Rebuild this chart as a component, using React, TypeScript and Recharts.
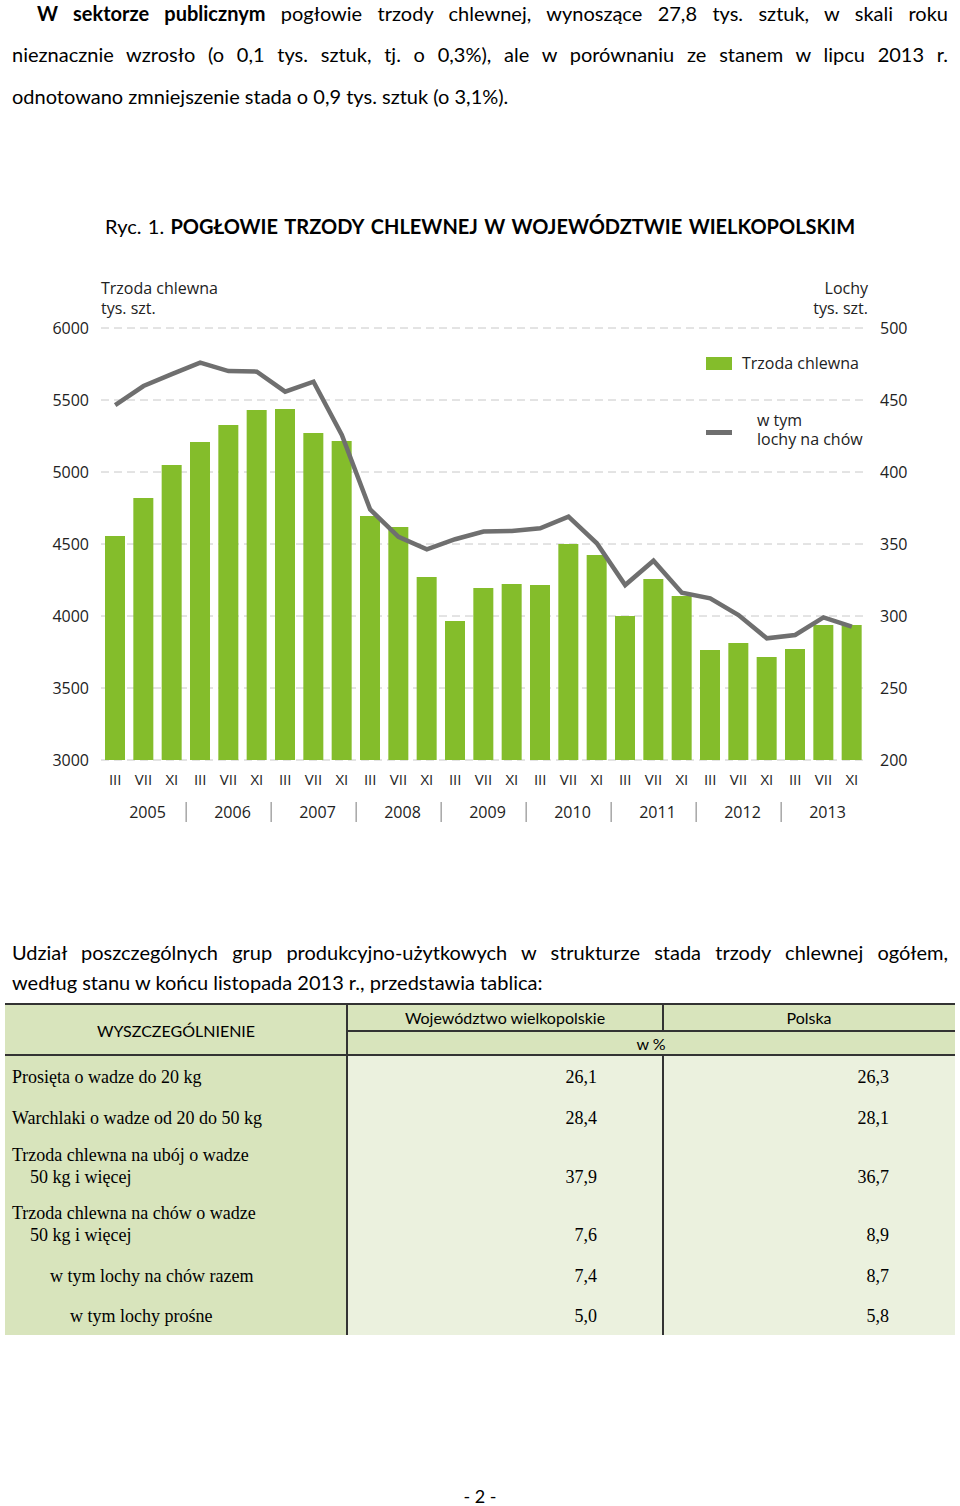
import React from 'react';
import { ComposedChart, Bar, Line, XAxis, YAxis, CartesianGrid, Legend } from 'recharts';

const years = ['2005', '2006', '2007', '2008', '2009', '2010', '2011', '2012', '2013'];
const months = ['III', 'VII', 'XI'];
const pigs = [4556, 4819, 5049, 5208, 5326, 5431, 5438, 5271, 5215, 4694, 4618, 4271, 3965, 4195, 4222, 4215, 4500, 4424, 4000, 4257, 4139, 3764, 3812, 3715, 3771, 3938, 3938];
const sows = [446.5, 459.7, 468, 475.9, 470.1, 469.7, 455.8, 462.7, 425.7, 374, 355, 346.3, 353.3, 358.6, 359, 360.9, 369, 350.5, 321.5, 338.4, 316.2, 312.3, 300.7, 284.5, 286.8, 299, 292.6];
const leftTicks = [3000, 3500, 4000, 4500, 5000, 5500, 6000];
const rightTicks = [200, 250, 300, 350, 400, 450, 500];

const tableLabels = [
  ['Prosięta o wadze do 20 kg'],
  ['Warchlaki o wadze od 20 do 50 kg'],
  ['Trzoda chlewna na ubój o wadze', '50 kg i więcej'],
  ['Trzoda chlewna na chów o wadze', '50 kg i więcej'],
  ['w tym lochy na chów razem'],
  ['w tym lochy prośne'],
];
const tableWlkp = ['26,1', '28,4', '37,9', '7,6', '7,4', '5,0'];
const tablePolska = ['26,3', '28,1', '36,7', '8,9', '8,7', '5,8'];

const categories = years.flatMap((y) => months.map((m) => ({ year: y, month: m })));
const data = categories.map((c, i) => ({
  key: c.year + '-' + c.month,
  month: c.month,
  year: c.year,
  pigs: pigs[i],
  sows: sows[i],
}));

const GREEN = '#84bd2b';
const GRAY = '#6f6f6f';
const CHART_FONT = '"Open Sans", "DejaVu Sans", sans-serif';
const TEXT_FONT = 'Lato, "Open Sans", sans-serif';
const SERIF = '"Liberation Serif", "DejaVu Serif", serif';

const MonthTick = (props: any) => {
  const { x, y, payload } = props;
  const index = props.index ?? payload.index ?? 0;
  const yearIdx = Math.floor(index / 3);
  return (
    <g>
      <text x={x} y={y + 25} textAnchor="middle" fontSize={15} fontFamily={CHART_FONT} fill="#222">
        {payload.value}
      </text>
      {index % 3 === 1 && (
        <text x={x + 4} y={y + 58} textAnchor="middle" fontSize={16} fontFamily={CHART_FONT} fill="#222">
          {years[yearIdx]}
        </text>
      )}
      {index % 3 === 0 && index > 0 && (
        <line x1={x - 14} x2={x - 14} y1={y + 42} y2={y + 62} stroke="#999" strokeWidth={1.3} />
      )}
    </g>
  );
};

const LegendContent = (props: any) => {
  const payload = props.payload || [];
  const barItem = payload.find((p: any) => p.dataKey === 'pigs');
  const lineItem = payload.find((p: any) => p.dataKey === 'sows');
  return (
    <div style={{ fontFamily: CHART_FONT, fontSize: 16, color: '#222', position: 'relative', width: 200, height: 110 }}>
      <div style={{ position: 'absolute', left: 0, top: 5, width: 26, height: 13, background: GREEN }} />
      <div style={{ position: 'absolute', left: 36, top: 0, lineHeight: '22px', whiteSpace: 'nowrap' }}>
        {barItem ? barItem.value : 'Trzoda chlewna'}
      </div>
      <div style={{ position: 'absolute', left: 0, top: 78, width: 26, height: 5, background: GRAY }} />
      <div style={{ position: 'absolute', left: 51, top: 59, lineHeight: '19px', whiteSpace: 'nowrap' }}>
        {(lineItem ? lineItem.value : 'w tym|lochy na chów').split('|').map((s: string, i: number) => (
          <div key={i}>{s}</div>
        ))}
      </div>
    </div>
  );
};

const Chart = () => (
  <ComposedChart
    width={960}
    height={860}
    data={data}
    margin={{ top: 328, right: 34, bottom: 30, left: 41 }}
    barCategoryGap={8}
  >
    <CartesianGrid yAxisId="left" vertical={false} stroke="#c8c8c8" strokeDasharray="8 5" />
    <XAxis
      dataKey="key"
      height={70}
      axisLine={false}
      tickLine={false}
      tickSize={0}
      tickMargin={0}
      interval={0}
      tick={(p: any) => <MonthTick {...p} payload={{ ...p.payload, value: data[p.index]?.month }} />}
    />
    <YAxis
      yAxisId="left"
      width={60}
      domain={[3000, 6000]}
      ticks={leftTicks}
      axisLine={false}
      tickLine={false}
      tickMargin={6}
      tick={{ fontSize: 16, fontFamily: CHART_FONT, fill: '#222' }}
    />
    <YAxis
      yAxisId="right"
      orientation="right"
      width={60}
      domain={[200, 500]}
      ticks={rightTicks}
      axisLine={false}
      tickLine={false}
      tickMargin={8}
      tick={{ fontSize: 16, fontFamily: CHART_FONT, fill: '#222', textAnchor: 'start' }}
    />
    <Legend
      layout="horizontal"
      verticalAlign="middle"
      align="center"
      content={<LegendContent />}
      wrapperStyle={{ position: 'absolute', left: 706, top: 352, width: 200, height: 110 }}
    />
    <Bar yAxisId="left" dataKey="pigs" name="Trzoda chlewna" fill={GREEN} barSize={20} isAnimationActive={false} />
    <Line
      yAxisId="right"
      dataKey="sows"
      name="w tym|lochy na chów"
      type="linear"
      stroke={GRAY}
      strokeWidth={4.5}
      dot={false}
      activeDot={false}
      isAnimationActive={false}
    />
  </ComposedChart>
);

const abs = (left: number, top: number, extra: React.CSSProperties = {}): React.CSSProperties => ({
  position: 'absolute',
  left,
  top,
  ...extra,
});

const justLine: React.CSSProperties = {
  textAlign: 'justify',
  textAlignLast: 'justify',
  whiteSpace: 'nowrap',
};

export default function App() {
  const rowTops = [1055, 1097, 1137, 1197, 1255, 1295];
  const rowBottoms = [1097, 1137, 1197, 1255, 1295, 1335];
  const indents = [12, 12, 12, 12, 50, 70];
  return (
    <div style={{ position: 'absolute', left: 0, top: 0, width: 960, height: 1506, background: '#fff', color: '#000', overflow: 'hidden' }}>
      {/* Paragraph 1 */}
      <div style={{ ...abs(37, 0, { width: 911, fontFamily: TEXT_FONT, fontSize: 20, lineHeight: '26px' }), ...justLine }}>
        <b>W sektorze publicznym</b> pogłowie trzody chlewnej, wynoszące 27,8 tys. sztuk, w skali roku
      </div>
      <div style={{ ...abs(12, 41, { width: 936, fontFamily: TEXT_FONT, fontSize: 20, lineHeight: '26px' }), ...justLine }}>
        nieznacznie wzrosło (o 0,1 tys. sztuk, tj. o 0,3%), ale w porównaniu ze stanem w lipcu 2013 r.
      </div>
      <div style={abs(12, 83, { fontFamily: TEXT_FONT, fontSize: 20, lineHeight: '26px', whiteSpace: 'nowrap' })}>
        odnotowano zmniejszenie stada o 0,9 tys. sztuk (o 3,1%).
      </div>

      {/* Figure title */}
      <div style={{ ...abs(105, 213, { width: 750, fontFamily: TEXT_FONT, fontSize: 20, lineHeight: '26px' }), ...justLine }}>
        Ryc. 1. <b>POGŁOWIE</b> <b>TRZODY</b> <b>CHLEWNEJ</b> <b>W</b> <b>WOJEWÓDZTWIE</b> <b>WIELKOPOLSKIM</b>
      </div>

      {/* Chart */}
      <div style={abs(0, 0, { width: 960, height: 860 })}>
        <Chart />
      </div>

      {/* Axis titles */}
      <div style={abs(101, 278, { fontFamily: CHART_FONT, fontSize: 16, lineHeight: '20px', color: '#222' })}>
        <div>Trzoda chlewna</div>
        <div>tys. szt.</div>
      </div>
      <div style={abs(700, 278, { width: 168, textAlign: 'right', fontFamily: CHART_FONT, fontSize: 16, lineHeight: '20px', color: '#222' })}>
        <div>Lochy</div>
        <div>tys. szt.</div>
      </div>

      {/* Paragraph 2 */}
      <div style={{ ...abs(12, 939, { width: 936, fontFamily: TEXT_FONT, fontSize: 20, lineHeight: '26px' }), ...justLine }}>
        Udział poszczególnych grup produkcyjno-użytkowych w strukturze stada trzody chlewnej ogółem,
      </div>
      <div style={abs(12, 969, { fontFamily: TEXT_FONT, fontSize: 20, lineHeight: '26px', whiteSpace: 'nowrap' })}>
        według stanu w końcu listopada 2013 r., przedstawia tablica:
      </div>

      {/* Table */}
      <div style={abs(5, 1004, { width: 950, height: 331, background: '#d8e4bc' })} />
      <div style={abs(347, 1055, { width: 608, height: 280, background: '#ebf1de' })} />
      <div style={abs(5, 1003, { width: 950, height: 2, background: '#333' })} />
      <div style={abs(347, 1030, { width: 608, height: 1.5, background: '#333' })} />
      <div style={abs(5, 1054, { width: 950, height: 2, background: '#333' })} />
      <div style={abs(346, 1004, { width: 1.5, height: 331, background: '#333' })} />
      <div style={abs(662, 1004, { width: 1.5, height: 27, background: '#333' })} />
      <div style={abs(662, 1055, { width: 1.5, height: 280, background: '#333' })} />

      <div style={abs(5, 1019, { width: 342, textAlign: 'center', fontFamily: TEXT_FONT, fontSize: 16, lineHeight: '24px' })}>
        WYSZCZEGÓLNIENIE
      </div>
      <div style={abs(347, 1006, { width: 316, textAlign: 'center', fontFamily: TEXT_FONT, fontSize: 16, lineHeight: '24px' })}>
        Województwo wielkopolskie
      </div>
      <div style={abs(663, 1006, { width: 292, textAlign: 'center', fontFamily: TEXT_FONT, fontSize: 16, lineHeight: '24px' })}>
        Polska
      </div>
      <div style={abs(347, 1032, { width: 608, textAlign: 'center', fontFamily: TEXT_FONT, fontSize: 16, lineHeight: '24px' })}>
        w %
      </div>

      {tableLabels.map((lines, i) => {
        const last = lines.length === 2 ? rowBottoms[i] - 20 : (rowTops[i] + rowBottoms[i]) / 2 + 1;
        return (
          <React.Fragment key={i}>
            {lines.map((ln, j) => (
              <div
                key={j}
                style={abs(j === 1 ? 30 : indents[i], (lines.length === 2 ? (j === 0 ? last - 22 : last) : last) - 12, {
                  fontFamily: SERIF,
                  fontSize: 18,
                  lineHeight: '24px',
                  whiteSpace: 'nowrap',
                })}
              >
                {ln}
              </div>
            ))}
            <div style={abs(497, last - 12, { width: 100, textAlign: 'right', fontFamily: SERIF, fontSize: 18, lineHeight: '24px' })}>
              {tableWlkp[i]}
            </div>
            <div style={abs(789, last - 12, { width: 100, textAlign: 'right', fontFamily: SERIF, fontSize: 18, lineHeight: '24px' })}>
              {tablePolska[i]}
            </div>
          </React.Fragment>
        );
      })}

      {/* Page number */}
      <div style={abs(430, 1488, { width: 100, textAlign: 'center', fontFamily: TEXT_FONT, fontSize: 18, lineHeight: '17px' })}>
        - 2 -
      </div>
    </div>
  );
}
